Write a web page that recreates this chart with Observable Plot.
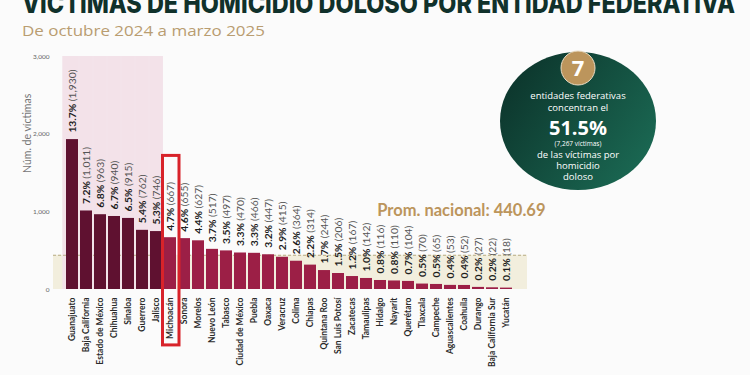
<!DOCTYPE html>
<html><head><meta charset="utf-8">
<script src="https://cdn.jsdelivr.net/npm/d3@7"></script>
<script src="https://cdn.jsdelivr.net/npm/@observablehq/plot@0.6"></script>
<style>
body{margin:0;background:#fbfbfb;}
#wrap{position:relative;width:750px;height:375px;overflow:hidden;background:#fbfbfb;font-family:Lato,"Open Sans",sans-serif;}
#head{position:absolute;left:0;top:0;}
#chart{position:absolute;left:0;top:40px;}
#callout{position:absolute;left:490px;top:40px;}
</style></head><body><div id="wrap">
<svg id="head" width="750" height="45">
  <text x="22" y="12.5" font-family="Inter, 'Open Sans', sans-serif" font-weight="800" font-size="27" fill="#10312b" textLength="713" lengthAdjust="spacingAndGlyphs">VÍCTIMAS DE HOMICIDIO DOLOSO POR ENTIDAD FEDERATIVA</text>
  <text x="22" y="35.5" font-family="'Open Sans', sans-serif" font-size="15" fill="#b99d71" textLength="243" lengthAdjust="spacingAndGlyphs">De octubre 2024 a marzo 2025</text>
</svg>
<div id="chart"></div>
<svg id="callout" width="260" height="160"></svg>
</div>
<script>
const estados = ["Guanajuato","Baja California","Estado de México","Chihuahua","Sinaloa","Guerrero","Jalisco","Michoacán","Sonora","Morelos","Nuevo León","Tabasco","Ciudad de México","Puebla","Oaxaca","Veracruz","Colima","Chiapas","Quintana Roo","San Luis Potosí","Zacatecas","Tamaulipas","Hidalgo","Nayarit","Querétaro","Tlaxcala","Campeche","Aguascalientes","Coahuila","Durango","Baja California Sur","Yucatán"];
const victimas = [1930,1011,963,940,915,762,746,667,655,627,517,497,470,466,447,415,364,314,244,206,167,142,116,110,104,70,65,53,52,27,22,18];
const porcentajes = [13.7,7.2,6.8,6.7,6.5,5.4,5.3,4.7,4.6,4.4,3.7,3.5,3.3,3.3,3.2,2.9,2.6,2.2,1.7,1.5,1.2,1.0,0.8,0.8,0.7,0.5,0.5,0.4,0.4,0.2,0.2,0.1];
const promedio = 440.69;
const numDestacados = 7;
const pctDestacados = 51.5;
const resaltado = "Michoacán";
const yTicks = [0,1000,2000,3000];

const data = estados.map((e,i)=>({estado:e, victimas:victimas[i], pct:porcentajes[i], dest: i < numDestacados}));
const destacados = data.filter(d=>d.dest);
const fmt = d3.format(",");

const plot = Plot.plot({
  width:750, height:335, marginTop:16, marginBottom:86, marginLeft:53, marginRight:224,
  style:{background:"transparent", fontFamily:"Lato, 'Open Sans', sans-serif", overflow:"visible"},
  x:{domain:estados, paddingInner:0.13, paddingOuter:0.25, axis:null},
  y:{domain:[0,3000], axis:null},
  marks:[
    Plot.rect([promedio], {y1:0, y2:d=>d, fill:"#f2eedd", insetRight:-1}),
    Plot.barY(destacados, {x:"estado", y1:0, y2:3000, fill:"#f3e2e9", insetLeft:-0.95, insetRight:-0.95}),
    Plot.barY([destacados[0]], {x:"estado", y1:0, y2:3000, fill:"#f3e2e9", insetLeft:-3.7}),
    Plot.ruleY([promedio], {stroke:"#b8ad85", strokeDasharray:"3,2", strokeWidth:1, insetRight:-1}),
    Plot.barY(data, {x:"estado", y:"victimas", fill:d=>d.dest ? "#5f1130" : "#9c1f46"}),
    Plot.text(data, {x:"estado", y:"victimas", text:d=>`${d.pct.toFixed(1)}%|(${fmt(d.victimas)})`, rotate:-90, textAnchor:"start", dy:-7, fontSize:10.3, fill:"#262626"}),
    Plot.axisX({tickRotate:-90, tickSize:0, tickPadding:8, fontSize:8.5, fontWeight:"bold", fill:"#2b2b2b", label:null}),
    Plot.axisY({ticks:yTicks, tickFormat:d3.format(","), tickSize:0, tickPadding:4, fontSize:6.5, fill:"#666", label:null}),
    Plot.text(["Núm. de víctimas"], {frameAnchor:"left", dx:-26, rotate:-90, fontSize:10.5, fill:"#777"}),
    Plot.text([`Prom. nacional: ${promedio}`], {y:[promedio], frameAnchor:"right", textAnchor:"end", dx:19, dy:-45, fontSize:16.5, fontWeight:"bold", fill:"#bc955c"}),
    Plot.barY(data.filter(d=>d.estado===resaltado), {x:"estado", y1:-720, y2:1720, fill:"none", stroke:"#d8232a", strokeWidth:3, insetLeft:-1.5, insetRight:-3})
  ]
});
document.getElementById("chart").appendChild(plot);

d3.select(plot).selectAll('text').each(function(){
  if (this.childElementCount > 0 || !this.textContent.includes("|")) return;
  const [a,b] = this.textContent.split("|");
  const t = d3.select(this); t.text(null);
  t.append("tspan").attr("font-weight","bold").attr("fill","#1e1e1e").text(a + "\u00a0");
  t.append("tspan").attr("font-weight","normal").attr("fill","#555").text(b);
});

// callout
const sumDest = d3.sum(destacados, d=>d.victimas);
const c = d3.select("#callout");
const defs = c.append("defs");
const g = defs.append("linearGradient").attr("id","gr").attr("x1","0").attr("x2","1").attr("y1","0.2").attr("y2","0.8");
g.append("stop").attr("offset","0").attr("stop-color","#0c342b");
g.append("stop").attr("offset","1").attr("stop-color","#1b6a54");
c.append("ellipse").attr("cx",88).attr("cy",81).attr("rx",78).attr("ry",69).attr("fill","url(#gr)");
c.append("circle").attr("cx",88).attr("cy",28).attr("r",17).attr("fill","#bc955c").attr("stroke","#e9dcc4").attr("stroke-width",1);
const lines = [
  {t:String(numDestacados), y:36, s:22, w:"bold"},
  {t:"entidades federativas", y:59, s:9.5, w:"normal"},
  {t:"concentran el", y:70.5, s:9.5, w:"normal"},
  {t:`${pctDestacados}%`, y:94.5, s:20, w:"bold"},
  {t:`(${fmt(sumDest)} víctimas)`, y:106, s:6.5, w:"normal"},
  {t:"de las víctimas por", y:118, s:9.5, w:"normal"},
  {t:"homicidio", y:129, s:9.5, w:"normal"},
  {t:"doloso", y:140, s:9.5, w:"normal"}
];
c.selectAll("text.l").data(lines).join("text").attr("class","l")
  .attr("x",88).attr("y",d=>d.y).attr("text-anchor","middle")
  .attr("font-family","'Open Sans', sans-serif").attr("font-size",d=>d.s).attr("font-weight",d=>d.w)
  .attr("fill","#ffffff").text(d=>d.t);
</script>
</body></html>
